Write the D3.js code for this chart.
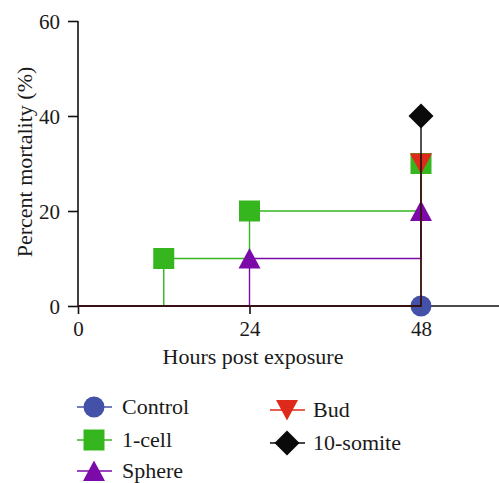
<!DOCTYPE html>
<html><head><meta charset="utf-8">
<script src="https://cdn.jsdelivr.net/npm/d3@7"></script>
<style>body{margin:0;background:#fff}svg{display:block}</style>
</head><body><svg id="c" width="499" height="483"></svg>
<script>
const seriesNames = ["Control","1-cell","Sphere","Bud","10-somite"];
const seriesColors = ["#4352a8","#35b61e","#7b0aa8","#dd2a1a","#0a0a0a"];
const seriesSymbols = ["circle","square","triangle","triangleDown","diamond"];
// event times (hours) and cumulative mortality (%)
const controlPts = [[0,0],[48,0]];
const oneCellPts = [[0,0],[12,10],[24,20],[48,30]];
const spherePts = [[0,0],[24,10],[48,20]];
const budPts = [[0,0],[48,30]];
const somitePts = [[0,0],[48,40]];
const seriesPts = [controlPts, oneCellPts, spherePts, budPts, somitePts];
const xTicks = [0,24,48];
const yTicks = [0,20,40,60];

const FONT = "'Liberation Serif'";
const svg = d3.select("#c");
const x = d3.scaleLinear().domain([0,59]).range([78,499.6]);
const y = d3.scaleLinear().domain([0,60]).range([306,21]);

// axes
const gy = svg.append("g").attr("transform","translate(78,0)")
  .call(d3.axisLeft(y).tickValues(yTicks).tickSize(10).tickPadding(8));
const gx = svg.append("g").attr("transform","translate(0,306)")
  .call(d3.axisBottom(x).tickValues(xTicks).tickSize(8).tickPadding(7));
[gx,gy].forEach(g=>{
  g.attr("font-family",null).attr("font-size",null);
  g.select(".domain").attr("stroke","#111").attr("stroke-width",1.6);
  g.selectAll(".tick line").attr("stroke","#111").attr("stroke-width",1.6);
  g.selectAll(".tick text").style("font-size","21px").style("fill","#1a1a1a")
   .style("font-family",FONT);
});
gy.selectAll(".tick text").attr("dy","0.38em");
gx.select(".domain").attr("d","M78,0H499.6");
gy.select(".domain").attr("d","M0,21V306");

svg.append("text").attr("x",253).attr("y",364).attr("text-anchor","middle")
  .style("font-family",FONT).style("fill","#1a1a1a")
  .style("font-size","22px").text("Hours post exposure");
svg.append("text").attr("transform","translate(32,162) rotate(-90)").attr("text-anchor","middle")
  .style("font-family",FONT).style("fill","#1a1a1a")
  .style("font-size","22px").text("Percent mortality (%)");

function sym(name){
  if(name==="circle") return `M${-10.5},0A10.5,10.5 0 1,0 10.5,0A10.5,10.5 0 1,0 -10.5,0Z`;
  if(name==="square") return `M-10.5,-10.5H10.5V10.5H-10.5Z`;
  if(name==="triangle") return `M0,-10.5L11,10L-11,10Z`;
  if(name==="triangleDown") return `M0,10.5L11,-10L-11,-10Z`;
  if(name==="diamond") return `M0,-12.5L12.5,0L0,12.5L-12.5,0Z`;
}

const stepLine = d3.line().x(d=>x(d[0])).y(d=>y(d[1])).curve(d3.curveStepAfter);
seriesPts.forEach((pts,i)=>{
  svg.append("path").attr("d",stepLine(pts)).attr("fill","none")
    .attr("stroke",seriesColors[i]).attr("stroke-width",1.4);
  svg.selectAll(null).data(pts.slice(1)).enter().append("path")
    .attr("transform",d=>`translate(${x(d[0])},${y(d[1])})`)
    .attr("d",sym(seriesSymbols[i])).attr("fill",seriesColors[i]);
});
// legend
const legendPos = [[94,407],[94,440],[94,471],[287,410],[287,443]];
seriesNames.forEach((n,i)=>{
  const [lx,ly] = legendPos[i];
  const g = svg.append("g").attr("transform",`translate(${lx},${ly})`);
  g.append("line").attr("x1",-17).attr("x2",18).attr("stroke",seriesColors[i]).attr("stroke-width",1.4);
  g.append("path").attr("d",sym(seriesSymbols[i])).attr("fill",seriesColors[i]);
  g.append("text").attr("x",i<3?28:26).attr("y",7).style("font-family",FONT).style("fill","#1a1a1a")
   .style("font-size","22px").text(n);
});
</script></body></html>
